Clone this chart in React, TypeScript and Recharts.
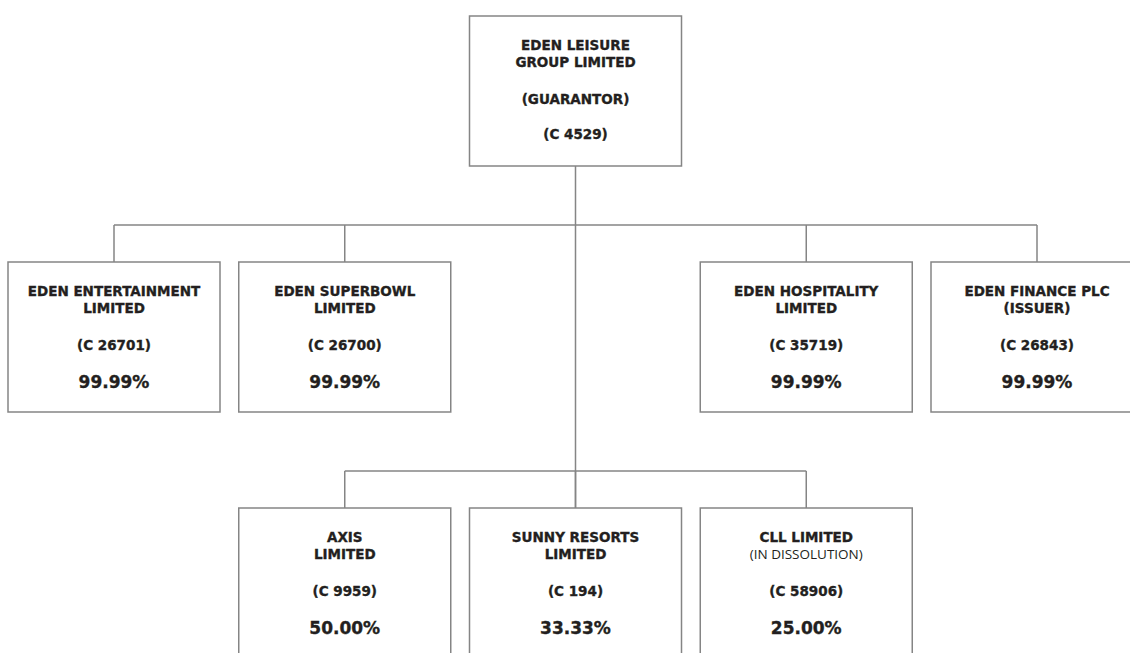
import { ReferenceLine, Scatter, ScatterChart, XAxis, YAxis } from "recharts";

// group structure chart: one box per company, linked to the guarantor
const entityNames: string[][] = [
  ["EDEN LEISURE", "GROUP LIMITED"],
  ["EDEN ENTERTAINMENT", "LIMITED"],
  ["EDEN SUPERBOWL", "LIMITED"],
  ["EDEN HOSPITALITY", "LIMITED"],
  ["EDEN FINANCE PLC"],
  ["AXIS", "LIMITED"],
  ["SUNNY RESORTS", "LIMITED"],
  ["CLL LIMITED"]
];
const entityRoles = ["GUARANTOR", "", "", "", "ISSUER", "", "", "IN DISSOLUTION"];
const companyNumbers = ["C 4529", "C 26701", "C 26700", "C 35719", "C 26843", "C 9959", "C 194", "C 58906"];
const holdings: (number | null)[] = [null, 99.99, 99.99, 99.99, 99.99, 50.0, 33.33, 25.0];
const tiers = [0, 1, 1, 1, 1, 2, 2, 2];

// layout
const WIDTH = 1130;
const HEIGHT = 653;
const tierSlots = [[2], [0, 1, 3, 4], [1, 2, 3]];
const SLOT_PX = 230.75;
const LEVEL_PX = 246;
const BOX_W = 212;
const BOX_H = 150;
const STUB = 37;
const LINE = "#858585";
const INK = "#231f20";
const FONT = "'DejaVu Sans', sans-serif";
const LIGHT_FONT = "'Open Sans', sans-serif";

const busOffset = (BOX_H / 2 + STUB) / LEVEL_PX;
const halfBox = BOX_H / 2 / LEVEL_PX;

const nodes = entityNames.map((_, i) => {
  const tier = tiers[i];
  const order = tiers.slice(0, i).filter((t) => t === tier).length;
  return { id: i, x: tierSlots[tier][order], y: tier };
});

type Line = { text: string; dy: number; size: number; light?: boolean };

function textLines(i: number): Line[] {
  const role = entityRoles[i];
  const lines: Line[] = entityNames[i].map((text, k) => ({ text, dy: 29 + k * 17, size: 13.5 }));
  if (role === "ISSUER") lines.push({ text: `(${role})`, dy: 46, size: 13.5 });
  if (role === "IN DISSOLUTION") lines.push({ text: `(${role})`, dy: 46, size: 13.5, light: true });
  if (role === "GUARANTOR") {
    lines.push({ text: `(${role})`, dy: 83, size: 13.5 });
    lines.push({ text: `(${companyNumbers[i]})`, dy: 118, size: 13.5 });
  } else {
    lines.push({ text: `(${companyNumbers[i]})`, dy: 83, size: 13.5 });
    const h = holdings[i];
    if (h !== null) lines.push({ text: `${h.toFixed(2)}%`, dy: 119.5, size: 17 });
  }
  return lines;
}

function EntityBox(props: any) {
  const { cx, cy, payload } = props;
  const top = cy - BOX_H / 2;
  return (
    <g>
      {payload.y > 0 && <line x1={cx} y1={top - STUB} x2={cx} y2={top} stroke={LINE} strokeWidth={1.5} />}
      <rect x={cx - BOX_W / 2} y={top} width={BOX_W} height={BOX_H} fill="#fff" stroke={LINE} strokeWidth={1.5} />
      {textLines(payload.id).map((l) => (
        <text
          key={l.text + l.dy}
          x={cx}
          y={top + l.dy}
          textAnchor="middle"
          dominantBaseline="central"
          fontFamily={l.light ? LIGHT_FONT : FONT}
          fontSize={l.size}
          fontWeight={l.light ? 400 : 700}
          fill={INK}
          stroke={l.light ? "none" : INK}
          strokeWidth={0.35}
        >
          {l.text}
        </text>
      ))}
    </g>
  );
}

export default function App() {
  return (
    <div style={{ position: "absolute", left: 0, top: 0, width: WIDTH, height: HEIGHT, background: "#fff" }}>
      <ScatterChart
        width={WIDTH}
        height={HEIGHT}
        margin={{ top: 91, bottom: HEIGHT - 91 - 2 * LEVEL_PX, left: 114, right: WIDTH - 114 - 4 * SLOT_PX }}
      >
        <XAxis type="number" dataKey="x" domain={[0, 4]} hide />
        <YAxis type="number" dataKey="y" domain={[0, 2]} reversed hide />
        <ReferenceLine segment={[{ x: 0, y: 1 - busOffset }, { x: 4, y: 1 - busOffset }]} stroke={LINE} strokeWidth={1.5} />
        <ReferenceLine segment={[{ x: 1, y: 2 - busOffset }, { x: 3, y: 2 - busOffset }]} stroke={LINE} strokeWidth={1.5} />
        <ReferenceLine segment={[{ x: 2, y: halfBox }, { x: 2, y: 2 - halfBox }]} stroke={LINE} strokeWidth={1.5} />
        <Scatter data={nodes} shape={EntityBox} isAnimationActive={false} />
      </ScatterChart>
    </div>
  );
}
